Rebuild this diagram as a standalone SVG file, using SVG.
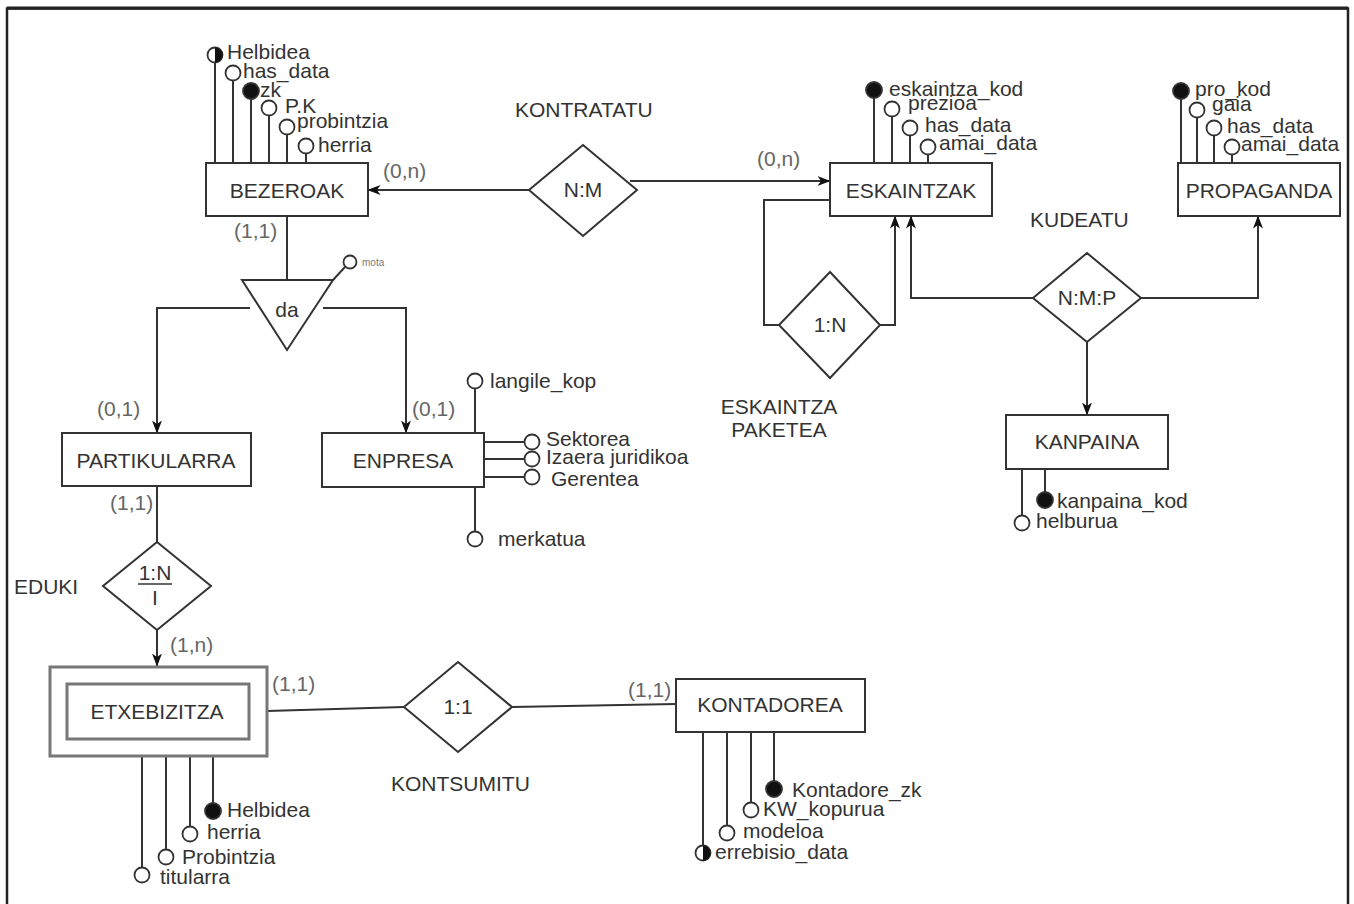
<svg xmlns="http://www.w3.org/2000/svg" width="1354" height="904" viewBox="0 0 1354 904">
<defs>
<style>
.e{fill:#fff;stroke:#333;stroke-width:2}
.w{fill:#fff;stroke:#777;stroke-width:3}
.l{fill:none;stroke:#333;stroke-width:2}
.t{font-family:"Liberation Sans",Arial,sans-serif;font-size:21px;fill:#333}
.c{text-anchor:middle}
.g{fill:#666}
.a{fill:#fff;stroke:#333;stroke-width:1.8}
.k{fill:#111;stroke:#333;stroke-width:1.8}
.h{fill:#111;stroke:none}
</style>
<marker id="arr" viewBox="0 0 13 10" refX="12.5" refY="5" markerWidth="13" markerHeight="10" markerUnits="userSpaceOnUse" orient="auto">
<path d="M0,0 L13,5 L0,10 L3.5,5 z" fill="#111"/>
</marker>
</defs>
<rect x="0" y="0" width="1354" height="904" fill="#fff"/>
<path d="M7,904 V8.5 H1348 V904" fill="none" stroke="#222" stroke-width="2.5"/>
<line x1="7" y1="8" x2="1348" y2="8" stroke="#222" stroke-width="3"/>

<g id="connectors">
<line class="l" x1="529" y1="190" x2="368" y2="190" marker-end="url(#arr)"/>
<line class="l" x1="630" y1="181" x2="830" y2="181" marker-end="url(#arr)"/>
<line class="l" x1="287" y1="216" x2="287" y2="280"/>
<path class="l" d="M250,308 H157 V433" marker-end="url(#arr)"/>
<path class="l" d="M323,308 H406 V433" marker-end="url(#arr)"/>
<line class="l" x1="333" y1="280" x2="345" y2="267" stroke-width="1.5"/>
<line class="l" x1="157" y1="486" x2="157" y2="542"/>
<line class="l" x1="157" y1="630" x2="157" y2="666" marker-end="url(#arr)"/>
<line class="l" x1="267" y1="711" x2="404" y2="707"/>
<line class="l" x1="512" y1="707" x2="676" y2="704"/>
<path class="l" d="M830,200 H764 V325 H779"/>
<path class="l" d="M880,325 H895 V216" marker-end="url(#arr)"/>
<path class="l" d="M1033,298 H911 V216" marker-end="url(#arr)"/>
<path class="l" d="M1141,298 H1258 V216" marker-end="url(#arr)"/>
<line class="l" x1="1087" y1="342" x2="1087" y2="415" marker-end="url(#arr)"/>
</g>

<g id="bezeroak">
<line class="l" x1="215" y1="63" x2="215" y2="163"/>
<line class="l" x1="233" y1="81" x2="233" y2="163"/>
<line class="l" x1="251" y1="99" x2="251" y2="163"/>
<line class="l" x1="269" y1="116" x2="269" y2="163"/>
<line class="l" x1="287" y1="135" x2="287" y2="163"/>
<line class="l" x1="306" y1="154" x2="306" y2="163"/>
<rect class="e" x="206" y="163" width="162" height="53"/>
<text class="t c" x="287" y="197.5">BEZEROAK</text>
<circle class="a" cx="215" cy="55" r="7.5"/>
<path class="h" d="M215,47.5 A7.5,7.5 0 0 1 215,62.5 Z"/>
<text class="t" x="227" y="59">Helbidea</text>
<circle class="a" cx="233" cy="73" r="7.5"/>
<text class="t" x="243" y="78">has_data</text>
<circle class="k" cx="251" cy="91" r="8"/>
<text class="t" x="260" y="97">zk</text>
<circle class="a" cx="269" cy="108" r="7.5"/>
<text class="t" x="285" y="113">P.K</text>
<circle class="a" cx="287" cy="127" r="7.5"/>
<text class="t" x="297" y="128">probintzia</text>
<circle class="a" cx="306" cy="146" r="7.5"/>
<text class="t" x="318" y="152">herria</text>
<text class="t g" x="383" y="178">(0,n)</text>
<text class="t g" x="234" y="238">(1,1)</text>
</g>

<g id="kontratatu">
<polygon class="e" points="583,145 637,190 583,236 529,190"/>
<text class="t c" x="583" y="197">N:M</text>
<text class="t" x="515" y="117">KONTRATATU</text>
</g>

<g id="eskaintzak">
<line class="l" x1="874" y1="98" x2="874" y2="163"/>
<line class="l" x1="892" y1="117" x2="892" y2="163"/>
<line class="l" x1="910" y1="136" x2="910" y2="163"/>
<line class="l" x1="928" y1="155" x2="928" y2="163"/>
<rect class="e" x="830" y="163" width="162" height="53"/>
<text class="t c" x="911" y="197.5">ESKAINTZAK</text>
<circle class="k" cx="874" cy="90" r="8"/>
<text class="t" x="889" y="96">eskaintza_kod</text>
<circle class="a" cx="892" cy="109" r="7.5"/>
<text class="t" x="908" y="110">prezioa</text>
<circle class="a" cx="910" cy="128" r="7.5"/>
<text class="t" x="925" y="132">has_data</text>
<circle class="a" cx="928" cy="147" r="7.5"/>
<text class="t" x="939" y="150">amai_data</text>
<text class="t g" x="757" y="166">(0,n)</text>
</g>

<g id="propaganda">
<line class="l" x1="1181" y1="99" x2="1181" y2="163"/>
<line class="l" x1="1197" y1="118" x2="1197" y2="163"/>
<line class="l" x1="1214" y1="136" x2="1214" y2="163"/>
<line class="l" x1="1232" y1="155" x2="1232" y2="163"/>
<rect class="e" x="1178" y="163" width="162" height="53"/>
<text class="t c" x="1259" y="197.5">PROPAGANDA</text>
<circle class="k" cx="1181" cy="91" r="8"/>
<text class="t" x="1195" y="96">pro_kod</text>
<circle class="a" cx="1197" cy="110" r="7.5"/>
<text class="t" x="1212" y="111">gaia</text>
<circle class="a" cx="1214" cy="128" r="7.5"/>
<text class="t" x="1227" y="133">has_data</text>
<circle class="a" cx="1232" cy="147" r="7.5"/>
<text class="t" x="1241" y="151">amai_data</text>
</g>

<g id="eskaintza-paketea">
<polygon class="e" points="830,272 880,325 830,378 779,325"/>
<text class="t c" x="830" y="332">1:N</text>
<text class="t c" x="779" y="414">ESKAINTZA</text>
<text class="t c" x="779" y="437">PAKETEA</text>
</g>

<g id="kudeatu">
<polygon class="e" points="1087,253 1141,298 1087,342 1033,298"/>
<text class="t c" x="1087" y="305">N:M:P</text>
<text class="t" x="1030" y="227">KUDEATU</text>
</g>

<g id="kanpaina">
<line class="l" x1="1022" y1="469" x2="1022" y2="515"/>
<line class="l" x1="1045" y1="469" x2="1045" y2="492"/>
<rect class="e" x="1006" y="415" width="162" height="54"/>
<text class="t c" x="1087" y="449">KANPAINA</text>
<circle class="k" cx="1045" cy="500" r="8"/>
<text class="t" x="1057" y="508">kanpaina_kod</text>
<circle class="a" cx="1022" cy="523" r="7.5"/>
<text class="t" x="1036" y="528">helburua</text>
</g>

<g id="da">
<polygon class="e" points="242,280 333,280 287,350"/>
<text class="t c" x="287" y="317">da</text>
<circle class="a" cx="350" cy="262" r="6.5" stroke-width="1.5"/>
<text x="362" y="266" font-family="Liberation Sans, Arial, sans-serif" font-size="10" fill="#777">mota</text>
</g>

<g id="partikularra">
<rect class="e" x="62" y="433" width="189" height="53"/>
<text class="t c" x="156" y="467.5">PARTIKULARRA</text>
<text class="t g" x="97" y="416">(0,1)</text>
<text class="t g" x="110" y="510">(1,1)</text>
</g>

<g id="enpresa">
<line class="l" x1="475" y1="389" x2="475" y2="433"/>
<line class="l" x1="475" y1="487" x2="475" y2="531"/>
<line class="l" x1="485" y1="442" x2="524" y2="442"/>
<line class="l" x1="485" y1="459" x2="524" y2="459"/>
<line class="l" x1="485" y1="477" x2="524" y2="477"/>
<rect class="e" x="322" y="433" width="162" height="54"/>
<text class="t c" x="403" y="467.5">ENPRESA</text>
<circle class="a" cx="475" cy="381" r="7.5"/>
<text class="t" x="490" y="388">langile_kop</text>
<circle class="a" cx="532" cy="442" r="7.5"/>
<text class="t" x="546" y="446">Sektorea</text>
<circle class="a" cx="532" cy="459" r="7.5"/>
<text class="t" x="546" y="464">Izaera juridikoa</text>
<circle class="a" cx="532" cy="477" r="7.5"/>
<text class="t" x="551" y="486">Gerentea</text>
<circle class="a" cx="475" cy="539" r="7.5"/>
<text class="t" x="498" y="546">merkatua</text>
<text class="t g" x="412" y="416">(0,1)</text>
</g>

<g id="eduki">
<polygon class="e" points="157,542 211,586 157,630 103,586"/>
<text class="t c" x="155" y="580">1:N</text>
<line x1="138" y1="584" x2="172" y2="584" stroke="#333" stroke-width="1.5"/>
<text class="t c" x="155" y="605">I</text>
<text class="t" x="14" y="594">EDUKI</text>
<text class="t g" x="170" y="652">(1,n)</text>
</g>

<g id="etxebizitza">
<line class="l" x1="142" y1="757" x2="142" y2="867"/>
<line class="l" x1="166" y1="757" x2="166" y2="849"/>
<line class="l" x1="190" y1="757" x2="190" y2="826"/>
<line class="l" x1="213" y1="757" x2="213" y2="803"/>
<rect class="w" x="50" y="667" width="217" height="89"/>
<rect class="w" x="67" y="684" width="182" height="55"/>
<text class="t c" x="157" y="719">ETXEBIZITZA</text>
<circle class="k" cx="213" cy="811" r="8"/>
<text class="t" x="227" y="817">Helbidea</text>
<circle class="a" cx="190" cy="834" r="7.5"/>
<text class="t" x="207" y="839">herria</text>
<circle class="a" cx="166" cy="857" r="7.5"/>
<text class="t" x="182" y="864">Probintzia</text>
<circle class="a" cx="142" cy="875" r="7.5"/>
<text class="t" x="160" y="884">titularra</text>
<text class="t g" x="272" y="691">(1,1)</text>
</g>

<g id="kontsumitu">
<polygon class="e" points="458,662 512,707 458,752 404,707"/>
<text class="t c" x="458" y="714">1:1</text>
<text class="t" x="391" y="791">KONTSUMITU</text>
</g>

<g id="kontadorea">
<line class="l" x1="703" y1="732" x2="703" y2="845"/>
<line class="l" x1="727" y1="732" x2="727" y2="825"/>
<line class="l" x1="751" y1="732" x2="751" y2="802"/>
<line class="l" x1="774" y1="732" x2="774" y2="781"/>
<rect class="e" x="676" y="679" width="189" height="53"/>
<text class="t c" x="770" y="712">KONTADOREA</text>
<circle class="k" cx="774" cy="789" r="8"/>
<text class="t" x="792" y="797">Kontadore_zk</text>
<circle class="a" cx="751" cy="810" r="7.5"/>
<text class="t" x="763" y="816">KW_kopurua</text>
<circle class="a" cx="727" cy="833" r="7.5"/>
<text class="t" x="743" y="838">modeloa</text>
<circle class="a" cx="703" cy="853" r="7.5"/>
<path class="h" d="M703,845.5 A7.5,7.5 0 0 1 703,860.5 Z"/>
<text class="t" x="715" y="859">errebisio_data</text>
<text class="t g" x="628" y="697">(1,1)</text>
</g>
</svg>
